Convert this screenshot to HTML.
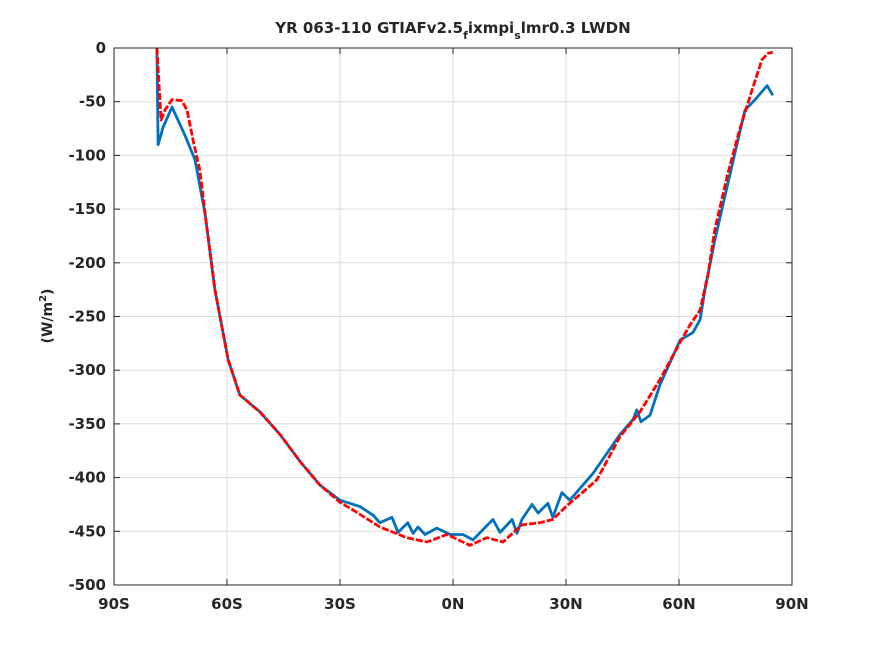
<!DOCTYPE html>
<html><head><meta charset="utf-8"><style>
body{margin:0;background:#fff;}
svg text{font-family:"DejaVu Sans","Liberation Sans",sans-serif;font-weight:bold;fill:#262626;}
</style></head><body>
<svg width="875" height="656">
<rect width="875" height="656" fill="#fff"/>
<g id="grid"></g>
<g id="lines"></g>
<rect x="114" y="48" width="678" height="537" fill="none" stroke="#262626" stroke-width="1"/>
<g id="ticks"></g>
<text x="453" y="33" text-anchor="middle" font-size="15">YR 063-110 GTIAFv2.5<tspan font-size="11" dy="6">f</tspan><tspan dy="-6">ixmpi</tspan><tspan font-size="11" dy="6">s</tspan><tspan dy="-6">lmr0.3 LWDN</tspan></text>
<text transform="translate(52,316) rotate(-90)" text-anchor="middle" font-size="14">(W/m<tspan font-size="10" dy="-6">2</tspan><tspan dy="6">)</tspan></text>
</svg>
<script>
const xTicks=[-90,-60,-30,0,30,60,90];
const xTickLabels=["90S","60S","30S","0N","30N","60N","90N"];
const yTicks=[0,-50,-100,-150,-200,-250,-300,-350,-400,-450,-500];
const blueLat=[-78.6,-78.3,-77.0,-74.6,-71.2,-68.5,-65.8,-63.2,-59.7,-56.6,-51.2,-45.9,-40.6,-35.3,-30,-24.7,-21.2,-19.4,-16.2,-14.6,-12,-10.6,-9.3,-7.4,-4.3,-0.8,2.6,5.3,10.6,12.5,15.7,17,18.3,21,22.6,25.2,26.5,28.9,31,37.2,44.3,47.8,48.8,49.9,52.3,54.9,60.3,63.7,65.6,66.9,69.5,73.5,77.5,80.2,83.4,84.9];
const blueVal=[0,-90,-74,-55,-81,-104,-155,-225,-290,-323,-339,-360,-385,-407,-421,-427,-435,-442,-437,-451,-442,-452,-446,-453,-447,-453,-453,-458,-439,-451,-439,-452,-439,-425,-433,-424,-437,-414,-421,-396,-360,-346,-337,-348,-342,-314,-272,-265,-253,-225,-179,-118,-58,-48,-35,-44];
const redLat=[-78.6,-77.5,-76.5,-74.6,-72,-70.6,-69,-67.2,-65.8,-63.2,-59.7,-56.6,-51.2,-45.9,-40.6,-35.3,-30,-26.6,-19.4,-12.2,-6.9,-1.6,4.5,9,13.3,18.3,23.1,26.5,30.3,35,38.2,44.3,49.6,54.9,60.3,62.9,65.6,67.7,69.5,72.9,76.1,79.4,82,83.6,84.9];
const redVal=[0,-67,-58,-48,-49,-58,-86,-114,-155,-225,-290,-323,-339,-360,-385,-407,-423,-430,-446,-456,-460,-453,-463,-456,-460,-444,-442,-439,-426,-412,-402,-362,-339,-309,-274,-258,-244,-211,-169,-118,-76,-39,-11,-5,-4];
const X0=114,X1=792,Y0=48,Y1=585;
const sx=v=>X0+(v+90)/180*(X1-X0);
const sy=v=>Y0+(0-v)/500*(Y1-Y0);
const NS="http://www.w3.org/2000/svg";
const grid=document.getElementById('grid'),ticks=document.getElementById('ticks'),lines=document.getElementById('lines');
function mk(tag,attrs,parent){const e=document.createElementNS(NS,tag);for(const k in attrs)e.setAttribute(k,attrs[k]);parent.appendChild(e);return e;}
xTicks.forEach((t,i)=>{
  const x=sx(t);
  const g=mk('line',{x1:x,x2:x,y1:Y0,y2:Y1,stroke:'#dcdcdc','stroke-width':1},grid);
  
  
  const a=mk('line',{x1:x,x2:x,y1:Y1,y2:Y1-6,stroke:'#262626'},ticks);
  
  
  const b=mk('line',{x1:x,x2:x,y1:Y0,y2:Y0+6,stroke:'#262626'},ticks);
  
  
  const tx=mk('text',{x:x,y:Y1+24,'text-anchor':'middle','font-size':15},ticks);
  tx.textContent=xTickLabels[i];
  
  
});
yTicks.forEach(t=>{
  const y=sy(t);
  const g=mk('line',{x1:X0,x2:X1,y1:y,y2:y,stroke:'#dcdcdc','stroke-width':1},grid);
  
  
  const a=mk('line',{x1:X0,x2:X0+6,y1:y,y2:y,stroke:'#262626'},ticks);
  
  
  const b=mk('line',{x1:X1,x2:X1-6,y1:y,y2:y,stroke:'#262626'},ticks);
  
  
  const tx=mk('text',{x:X0-8,y:y+5,'text-anchor':'end','font-size':15},ticks);
  tx.textContent=String(t);
  
  
});
function pts(lat,val){return lat.map((l,i)=>sx(l).toFixed(1)+','+sy(val[i]).toFixed(1)).join(' ');}
const bl=mk('polyline',{points:pts(blueLat,blueVal),fill:'none',stroke:'#0072bd','stroke-width':2.8,'stroke-linejoin':'round'},lines);


const rl=mk('polyline',{points:pts(redLat,redVal),fill:'none',stroke:'#ff0000','stroke-width':2.8,'stroke-dasharray':'7 2','stroke-linejoin':'round'},lines);


</script>
</body></html>
